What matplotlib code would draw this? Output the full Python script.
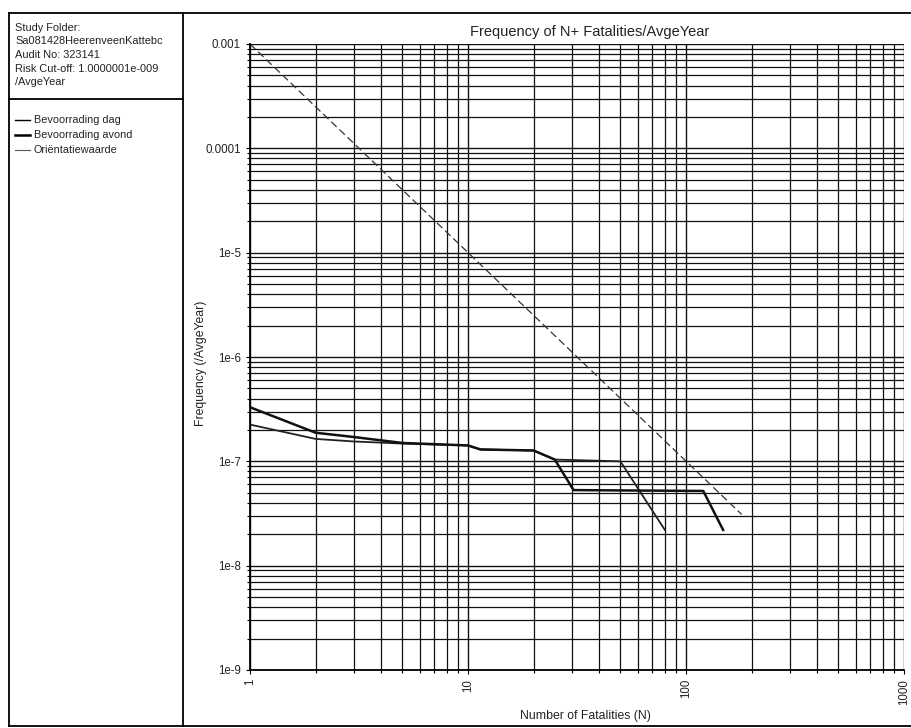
# F-N curve (groepsrisico) voor Bevoorrading dag / avond
import matplotlib
matplotlib.use("Agg")
import matplotlib.pyplot as plt
from matplotlib.lines import Line2D
from matplotlib.ticker import FixedLocator, LogLocator, NullFormatter

plt.rcParams["font.family"] = ["Liberation Sans", "DejaVu Sans"]

# data
dag_n = [1, 2, 3, 5, 10, 11.4, 20, 25, 50, 80]
dag_f = [2.25e-7, 1.64e-7, 1.55e-7, 1.48e-7, 1.42e-7, 1.3e-7, 1.27e-7, 1.04e-7, 1.0e-7, 2.2e-8]

avond_n = [1, 2, 3, 5, 10, 11.4, 20, 25, 30.5, 120, 148]
avond_f = [3.3e-7, 1.88e-7, 1.71e-7, 1.5e-7, 1.42e-7, 1.3e-7, 1.27e-7, 1.04e-7, 5.3e-8, 5.2e-8, 2.2e-8]

orient_n = [1, 180]
orient_f = [1e-3, 3.1e-8]

y_ticks = [1e-3, 1e-4, 1e-5, 1e-6, 1e-7, 1e-8, 1e-9]
y_labels = ["0.001", "0.0001", "1e-5", "1e-6", "1e-7", "1e-8", "1e-9"]
x_ticks = [1, 10, 100, 1000]
x_labels = ["1", "10", "100", "1000"]

info_lines = [
    "Study Folder:",
    "Sa081428HeerenveenKattebc",
    "Audit No: 323141",
    "Risk Cut-off: 1.0000001e-009",
    "/AvgeYear",
]
legend_names = ["Bevoorrading dag", "Bevoorrading avond", "Oriëntatiewaarde"]

W, H = 912, 728
fig = plt.figure(figsize=(W / 100, H / 100), dpi=100)


def fx(px):
    return px / W


def fy(py):
    return 1 - py / H


# kaders
frame = dict(color="black", lw=1.3, transform=fig.transFigure)
fig.add_artist(Line2D([fx(9), fx(912)], [fy(13), fy(13)], **frame))
fig.add_artist(Line2D([fx(9), fx(912)], [fy(726), fy(726)], **frame))
fig.add_artist(Line2D([fx(9), fx(9)], [fy(13), fy(726)], **frame))
fig.add_artist(Line2D([fx(183), fx(183)], [fy(13), fy(726)], **frame))
fig.add_artist(Line2D([fx(9), fx(183)], [fy(99), fy(99)], **frame))

# info tekst
for i, line in enumerate(info_lines):
    fig.text(fx(15), fy(28 + i * 13.5), line, fontsize=7.9, va="center", ha="left",
             color="#222222")

# legenda
legend_lw = [1.0, 1.8, 0.8]
legend_col = ["black", "black", "#555555"]
for i, name in enumerate(legend_names):
    y = fy(120 + i * 15)
    fig.add_artist(Line2D([fx(15), fx(30)], [y, y], color=legend_col[i],
                          lw=legend_lw[i], transform=fig.transFigure))
    fig.text(fx(34), y, name, fontsize=7.8, va="center", ha="left", color="#222222")

# hoofdgrafiek
ax = fig.add_axes([fx(250), fy(670), fx(904) - fx(250), fy(44) - fy(670)])
ax.set_xscale("log")
ax.set_yscale("log")
ax.set_xlim(1, 1000)
ax.set_ylim(1e-9, 1e-3)

ax.plot(orient_n, orient_f, color="#333333", lw=0.9, ls=(0, (6, 3)))
ax.plot(dag_n, dag_f, color="#222222", lw=1.3)
ax.plot(avond_n, avond_f, color="#111111", lw=1.8)

ax.grid(which="major", color="#111111", lw=1.0)
ax.grid(which="minor", color="#111111", lw=0.9)

ax.yaxis.set_major_locator(FixedLocator(y_ticks))
ax.set_yticklabels(y_labels)
ax.xaxis.set_major_locator(FixedLocator(x_ticks))
ax.set_xticklabels(x_labels, rotation=90)
ax.xaxis.set_minor_locator(LogLocator(base=10, subs=range(2, 10)))
ax.yaxis.set_minor_locator(LogLocator(base=10, subs=range(2, 10)))
ax.xaxis.set_minor_formatter(NullFormatter())
ax.yaxis.set_minor_formatter(NullFormatter())
ax.tick_params(which="both", labelsize=8.3, length=3, width=0.8, labelcolor="#222222")
ax.tick_params(which="minor", length=2)

for side in ["top", "right"]:
    ax.spines[side].set_visible(False)
ax.spines["left"].set_linewidth(1.3)
ax.spines["bottom"].set_linewidth(1.3)

fig.text(fx(590), fy(32), "Frequency of N+ Fatalities/AvgeYear", fontsize=10.5,
         ha="center", va="center", color="#222222")
fig.text(fx(585), fy(716), "Number of Fatalities (N)", fontsize=8.8,
         ha="center", va="center", color="#222222")
fig.text(fx(201), fy(363), "Frequency (/AvgeYear)", fontsize=8.8, rotation=90,
         ha="center", va="center", color="#222222")

fig.savefig("out.png", dpi=100)
